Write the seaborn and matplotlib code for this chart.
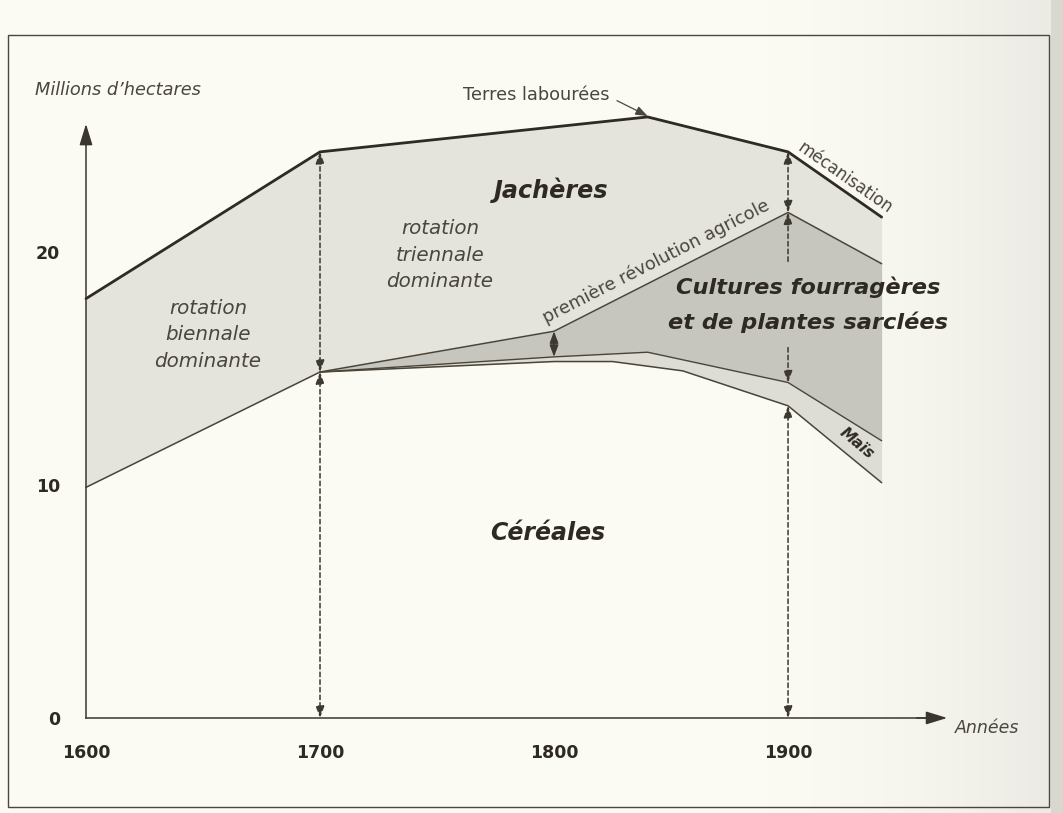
import numpy as np
import pandas as pd
import matplotlib
matplotlib.use("Agg")
import matplotlib.pyplot as plt
from matplotlib.patches import Rectangle
import seaborn as sns

# Limites supérieures des surfaces empilées (millions d'hectares)
annees_labourees = [1600, 1700, 1840, 1900, 1940]
terres_labourees = [18.0, 24.3, 25.8, 24.3, 21.5]

annees_fourrageres = [1700, 1800, 1900, 1940]
limite_fourrageres = [14.85, 16.6, 21.7, 19.5]

annees_mais = [1700, 1800, 1840, 1900, 1940]
limite_mais = [14.85, 15.5, 15.7, 14.4, 11.9]

annees_cereales = [1600, 1700, 1800, 1825, 1855, 1900, 1940]
limite_cereales = [9.9, 14.85, 15.3, 15.3, 14.9, 13.4, 10.1]

ticks_annees = [1600, 1700, 1800, 1900]
ticks_surface = [0, 10, 20]

sns.set_theme(style="white")
plt.rcParams["font.family"] = ["DejaVu Sans"]

W, H, DPI = 1063, 813, 100
PAPER = "#fbfaf2"
INK = "#2e2924"
SOFT_INK = "#4a453f"
JACHERE = "#e4e3dc"
FOURRAGE = "#c6c5be"
MAIS = "#dddcd5"

fig = plt.figure(figsize=(W / DPI, H / DPI), dpi=DPI, facecolor=PAPER)

# Fond de page légèrement ombré vers la droite
bg = fig.add_axes([0, 0, 1, 1], zorder=-5)
grad = np.linspace(0, 1, 400)
shade = np.clip((grad - 0.72) / 0.26, 0, 1) ** 1.5
c0 = np.array([0.988, 0.984, 0.953])
c1 = np.array([0.925, 0.922, 0.898])
img = c0[None, :] * (1 - shade[:, None]) + c1[None, :] * shade[:, None]
bg.imshow(img[None, :, :], extent=[0, 1, 0, 1], aspect="auto")
bg.set_xlim(0, 1)
bg.set_ylim(0, 1)
bg.axis("off")

# Cadre de la page
fig.patches.append(Rectangle((8 / W, 1 - 807 / H), (1049 - 8) / W, (807 - 35) / H,
                             transform=fig.transFigure, fill=False,
                             edgecolor="#4b4640", lw=1.0))
fig.patches.append(Rectangle((1051 / W, 0), 12 / W, 1, transform=fig.transFigure,
                             facecolor="#d9d8ce", edgecolor="none", zorder=-1))

ax = fig.add_axes([0, 0, 1, 1])
ax.set_facecolor("none")
ax.set_xlim(1563.25, 2017.5)
ax.set_ylim(-4.08, 30.82)

# Zones empilées
grid = np.array(sorted(set(annees_labourees + annees_fourrageres + annees_mais + annees_cereales)))
haut = np.interp(grid, annees_labourees, terres_labourees)
cer = np.interp(grid, annees_cereales, limite_cereales)
fou = np.where(grid < 1700, cer, np.interp(grid, annees_fourrageres, limite_fourrageres))
mai = np.where(grid < 1700, cer, np.interp(grid, annees_mais, limite_mais))

ax.fill_between(grid, fou, haut, color=JACHERE, lw=0, zorder=1)
ax.fill_between(grid, mai, fou, where=grid >= 1700, color=FOURRAGE, lw=0, zorder=1)
ax.fill_between(grid, cer, mai, where=grid >= 1700, color=MAIS, lw=0, zorder=1)

lignes = [
    (annees_labourees, terres_labourees, 2.0, "#2f2a22"),
    (annees_fourrageres, limite_fourrageres, 1.1, "#4a4538"),
    (annees_mais, limite_mais, 1.0, "#4a4538"),
    (annees_cereales, limite_cereales, 1.1, "#4a4538"),
]
for xs, ys, lw, col in lignes:
    sns.lineplot(x=xs, y=ys, ax=ax, color=col, lw=lw, sort=False, zorder=3,
                 solid_joinstyle="miter")

# Axes
for s in ("top", "right"):
    ax.spines[s].set_visible(False)
ax.spines["left"].set_position(("data", 1600))
ax.spines["bottom"].set_position(("data", 0))
ax.spines["left"].set_bounds(0, 25.0)
ax.spines["bottom"].set_bounds(1600, 1960)
for s in ("left", "bottom"):
    ax.spines[s].set_color("#3a352e")
    ax.spines[s].set_linewidth(1.1)
    ax.spines[s].set_zorder(4)

ax.set_xticks(ticks_annees)
ax.set_xticklabels([str(t) for t in ticks_annees])
ax.set_yticks(ticks_surface)
ax.set_yticklabels([str(t) for t in ticks_surface])
ax.tick_params(axis="both", direction="out", length=8.5, width=1.1, color="#3a352e",
               labelsize=12.5, labelcolor=INK)
ax.tick_params(axis="x", pad=10)
ax.tick_params(axis="y", pad=10)
for lab in ax.get_xticklabels() + ax.get_yticklabels():
    lab.set_fontweight("bold")

head = dict(color="#3a352e", lw=1.1, shrinkA=0, shrinkB=0, mutation_scale=20)
ax.annotate("", xy=(1600, 25.5), xytext=(1600, 24.6),
            arrowprops=dict(arrowstyle="-|>,head_length=0.65,head_width=0.2", **head), zorder=4)
ax.annotate("", xy=(1968, 0), xytext=(1955, 0),
            arrowprops=dict(arrowstyle="-|>,head_length=0.65,head_width=0.2", **head), zorder=4)

# Flèches de mesure
def fleche(x, y0, y1, style="<|-|>", dashed=True):
    props = dict(arrowstyle=style + ",head_length=0.35,head_width=0.13",
                 color="#3d3830", lw=1.1, shrinkA=0, shrinkB=0, mutation_scale=20)
    if dashed:
        props["linestyle"] = (0, (3, 2))
    ax.annotate("", xy=(x, y1), xytext=(x, y0), arrowprops=props, zorder=5)

fleche(1700, 14.85, 24.3)
fleche(1700, 14.85, 0)
fleche(1800, 15.5, 16.6, dashed=False)
fleche(1900, 21.7, 24.3)
fleche(1900, 19.6, 21.7, style="-|>")
fleche(1900, 15.9, 14.4, style="-|>")
fleche(1900, 13.4, 0)

# Textes
ax.text(1578.2, 26.95, "Millions d’hectares", fontsize=12.8, style="italic",
        color=SOFT_INK, ha="left", va="center")
ax.text(1971.4, -0.43, "Années", fontsize=12.5, style="italic",
        color=SOFT_INK, ha="left", va="center")
ax.text(1792.3, 26.74, "Terres labourées", fontsize=12.8, color=SOFT_INK,
        ha="center", va="center")
ax.annotate("", xy=(1840, 25.84), xytext=(1826.9, 26.5),
            arrowprops=dict(arrowstyle="-|>,head_length=0.4,head_width=0.15",
                            color=SOFT_INK, lw=0.9, shrinkA=0, shrinkB=0,
                            mutation_scale=18))

ax.text(1798.7, 22.66, "Jachères", fontsize=17.2, fontweight="bold", style="italic",
        color=INK, ha="center", va="center", zorder=6)
ax.text(1751.3, 19.87, "rotation\ntriennale\ndominante", fontsize=14.3, style="italic",
        color=SOFT_INK, ha="center", va="center", linespacing=1.48, zorder=6)
ax.text(1652.1, 16.44, "rotation\nbiennale\ndominante", fontsize=14.3, style="italic",
        color=SOFT_INK, ha="center", va="center", linespacing=1.48, zorder=6)
ax.text(1908.5, 17.73, "Cultures fourragères\net de plantes sarclées", fontsize=16.2,
        fontweight="bold", style="italic", color=INK, ha="center", va="center",
        linespacing=1.75, multialignment="center", zorder=6)
ax.text(1797.4, 7.94, "Céréales", fontsize=17, fontweight="bold", style="italic",
        color=INK, ha="center", va="center", zorder=6)
ax.text(1843.5, 19.6, "première révolution agricole", fontsize=12.8, color=SOFT_INK,
        rotation=27, rotation_mode="anchor", ha="center", va="center", zorder=6)
ax.text(1924.4, 23.18, "mécanisation", fontsize=12, color=SOFT_INK,
        rotation=-35, rotation_mode="anchor", ha="center", va="center", zorder=6)
ax.text(1929.5, 11.8, "Maïs", fontsize=11, fontweight="bold", style="italic",
        color=INK, rotation=-40, rotation_mode="anchor", ha="center", va="center", zorder=6)

fig.savefig("out.png", dpi=DPI, facecolor=PAPER)
